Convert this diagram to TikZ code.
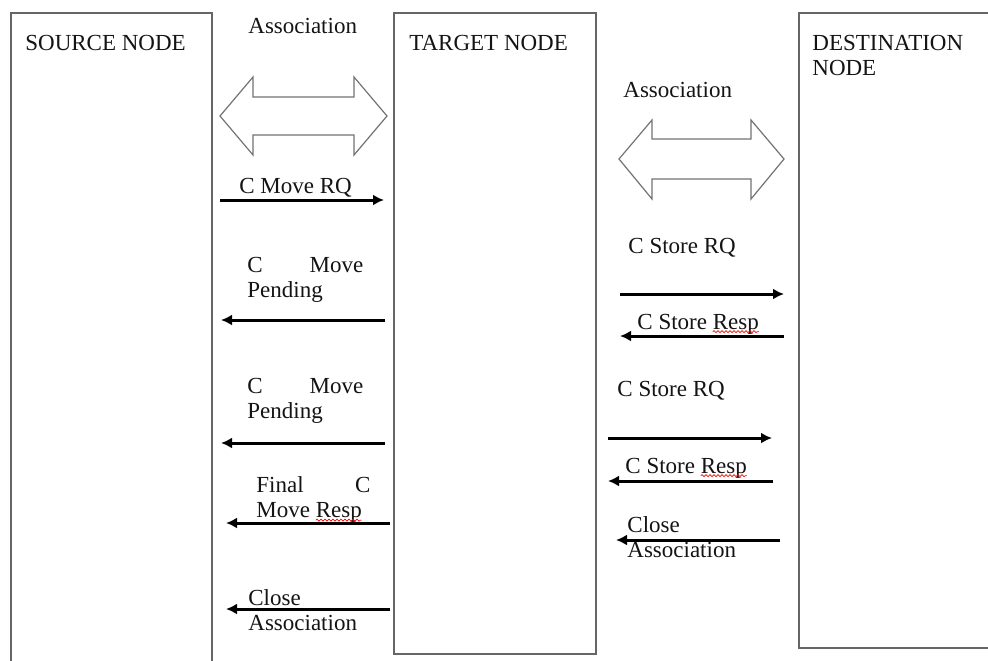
\documentclass[tikz,border=0pt]{standalone}
\usepackage{fontspec}
\setmainfont{Liberation Serif}
\usetikzlibrary{arrows.meta}
\usetikzlibrary{decorations.pathmorphing}
\usetikzlibrary{positioning}

\newcommand{\spreadline}[3]{\makebox[#1][s]{#2\hfill #3}}
\newcommand{\typo}[1]{\tikz[baseline=(w.base)]{\node[inner sep=0pt,outer sep=0pt,anchor=base] (w) {#1};%
  \draw[overlay,red,line width=0.35pt,decorate,decoration={snake,amplitude=0.5pt,segment length=2pt}]%
    ([yshift=-1.3pt]w.base west) -- ([yshift=-1.3pt]w.base east);}}

\begin{document}
\begin{tikzpicture}[
  x=0.5pt, y=-0.5pt,
  > = {Latex[length=5.5pt,width=5.5pt]},
  lane/.style = {draw=black!60, line width=0.75pt, inner sep=0pt, anchor=north west},
  txt/.style = {inner sep=0pt, anchor=base west, align=left, text=black!92, font=\fontsize{11.5}{12.75}\selectfont},
  msg/.style = {->, line width=1.5pt},
  assoc/.style = {draw=black!55, line width=0.6pt, line join=miter}
  ]
	\clip (0,0) rectangle (988,660);
	\fill[white] (0,0) rectangle (988,660);

	% the three nodes
	\node[lane, minimum width=100.5pt, minimum height=350pt] (source) at (10,12) {};
	\node[lane, minimum width=101pt, minimum height=320.5pt] (target) at (393,12) {};
	\node[lane, minimum width=125pt, minimum height=317.5pt] (dest) at (798,12) {};

	% (base of a two-line label = its last line)
	\node[txt] (source-lbl) at (25,50) {SOURCE NODE};
	\node[txt] (target-lbl) at (409,50) {TARGET NODE};
	\node[txt] (dest-lbl) at (812,75.5) {DESTINATION\\NODE};

	% association
	\node[txt] (assoc-l) at (248,33) {Association};
	\draw[assoc] (220,116) -- (253,77) -- (253,97) -- (354,97) -- (354,77) -- (387,116)
		-- (354,155) -- (354,135) -- (253,135) -- (253,155) -- cycle;
	\node[txt] (assoc-r) at (623,97) {Association};
	\draw[assoc] (619,159) -- (652,120) -- (652,139) -- (751,139) -- (751,120) -- (784,159)
		-- (751,199) -- (751,179) -- (652,179) -- (652,199) -- cycle;

	% source <-> target
	\coordinate (@mv1) at (220,200);
	\coordinate (@mv2) at (384,200);
	\coordinate (@pa1) at (385,320);
	\coordinate (@pa2) at (221,320);
	\coordinate (@pb1) at (385,443);
	\coordinate (@pb2) at (221,443);
	\coordinate (@fi1) at (390,523);
	\coordinate (@fi2) at (226,523);
	\coordinate (@cl1) at (390,609);
	\coordinate (@cl2) at (226,609);

	\node[txt] (move-rq) at (239,193) {C Move RQ};
	\node[txt] (pend-a) at (247,297.5) {\spreadline{58pt}{C}{Move}\\Pending};
	\node[txt] (pend-b) at (247,418.5) {\spreadline{58pt}{C}{Move}\\Pending};
	\node[txt] (final) at (256,517.5) {\spreadline{57pt}{Final}{C}\\Move \typo{Resp}};
	\node[txt] (close-l) at (248,630.5) {Close\\Association};

	\draw[msg] (@mv1) to (@mv2);
	\draw[msg] (@pa1) to (@pa2);
	\draw[msg] (@pb1) to (@pb2);
	\draw[msg] (@fi1) to (@fi2);
	\draw[msg] (@cl1) to (@cl2);

	% target <-> destination
	\coordinate (@sa1) at (620,294);
	\coordinate (@sa2) at (784,294);
	\coordinate (@ra1) at (784,336);
	\coordinate (@ra2) at (620,336);
	\coordinate (@sb1) at (608,438);
	\coordinate (@sb2) at (772,438);
	\coordinate (@rb1) at (773,481);
	\coordinate (@rb2) at (608,481);
	\coordinate (@cr1) at (780,540);
	\coordinate (@cr2) at (616,540);

	\node[txt] (store-rq-a) at (628,253) {C Store RQ};
	\node[txt] (store-resp-a) at (637,329) {C Store \typo{Resp}};
	\node[txt] (store-rq-b) at (617,396) {C Store RQ};
	\node[txt] (store-resp-b) at (625,473) {C Store \typo{Resp}};
	\node[txt] (close-r) at (627,557.5) {Close\\Association};

	\draw[msg] (@sa1) to (@sa2);
	\draw[msg] (@ra1) to (@ra2);
	\draw[msg] (@sb1) to (@sb2);
	\draw[msg] (@rb1) to (@rb2);
	\draw[msg] (@cr1) to (@cr2);

\end{tikzpicture}
\end{document}
